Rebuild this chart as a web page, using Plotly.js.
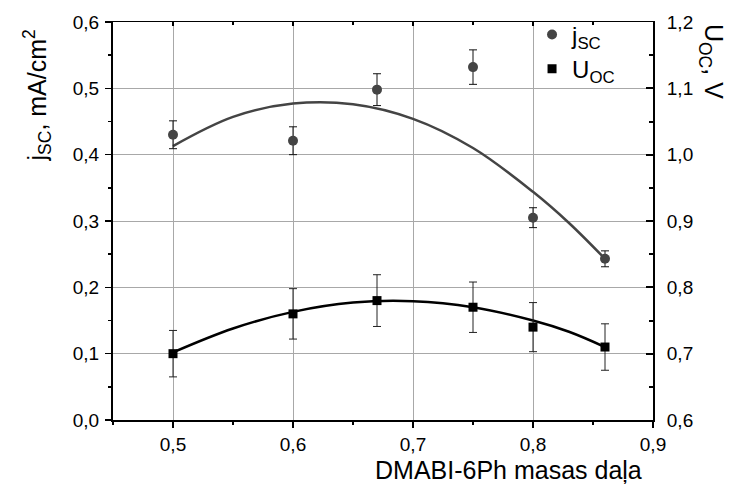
<!DOCTYPE html>
<html>
<head>
<meta charset="utf-8">
<script src="https://cdn.plot.ly/plotly-3.0.1.min.js"></script>
<style>html,body{margin:0;padding:0;background:#fff;}#chart{width:738px;height:493px;}</style>
</head>
<body>
<div id="chart"></div>
<script>
// Data
var massFraction = [0.5, 0.6, 0.67, 0.75, 0.8, 0.86];
var jscValues = [0.430, 0.421, 0.498, 0.532, 0.305, 0.243];
var jscErrors = [0.021, 0.021, 0.024, 0.026, 0.015, 0.012];
var uocValues = [0.70, 0.76, 0.78, 0.77, 0.74, 0.71];
var uocErrors = [0.035, 0.038, 0.039, 0.038, 0.037, 0.035];
// Fit curves
var fitX = [0.5, 0.55, 0.6, 0.65, 0.7, 0.75, 0.8, 0.83, 0.86];
var fitJsc = [0.413, 0.457, 0.477, 0.476, 0.454, 0.410, 0.344, 0.297, 0.243];
var fitUoc = [0.702, 0.738, 0.763, 0.777, 0.779, 0.770, 0.750, 0.733, 0.710];
var xTickVals = [0.5, 0.6, 0.7, 0.8, 0.9];

var FONT = 'Arial, "Liberation Sans", sans-serif';

var traces = [
  {x: fitX, y: fitJsc, type: 'scatter', mode: 'lines', line: {color: '#444444', width: 2.5, shape: 'spline'}, showlegend: false, hoverinfo: 'skip'},
  {x: fitX, y: fitUoc, type: 'scatter', mode: 'lines', yaxis: 'y2', line: {color: '#000000', width: 2.5, shape: 'spline'}, showlegend: false, hoverinfo: 'skip'},
  {x: massFraction, y: jscValues, type: 'scatter', mode: 'markers', name: 'j<sub>SC</sub>',
   marker: {symbol: 'circle', size: 10, color: '#444444'},
   error_y: {type: 'data', array: jscErrors, visible: true, color: '#111111', thickness: 1, width: 4}},
  {x: massFraction, y: uocValues, type: 'scatter', mode: 'markers', name: 'U<sub>OC</sub>', yaxis: 'y2',
   marker: {symbol: 'square', size: 9, color: '#000000'},
   error_y: {type: 'data', array: uocErrors, visible: true, color: '#222222', thickness: 1, width: 4}},
  {x: [null], y: [null], xaxis: 'x2', yaxis: 'y', showlegend: false, hoverinfo: 'skip'}
];

var layout = {
  width: 738, height: 493,
  margin: {l: 113, r: 85, t: 22, b: 73, pad: 0},
  paper_bgcolor: '#ffffff', plot_bgcolor: '#ffffff',
  separators: ', ',
  font: {family: FONT, size: 19, color: '#000'},
  showlegend: true,
  legend: {x: 0.776, y: 1.024, xanchor: 'left', yanchor: 'top', bgcolor: 'rgba(0,0,0,0)', borderwidth: 0,
           font: {family: FONT, size: 24, color: '#000'}, tracegroupgap: 0},
  xaxis: {range: [0.45, 0.9], tickvals: xTickVals, tickformat: '.1f', ticks: 'outside', ticklen: 6, tickwidth: 1.5, tickcolor: '#000',
          showline: true, linecolor: '#000', linewidth: 2, showgrid: true, gridcolor: '#a8a8a8', gridwidth: 1, zeroline: false,
          tickfont: {family: FONT, size: 19, color: '#000'},
          minor: {dtick: 0.05, tick0: 0.45, ticks: 'outside', ticklen: 3, tickwidth: 1.5, tickcolor: '#000', showgrid: false}},
  xaxis2: {overlaying: 'x', side: 'top', matches: 'x', range: [0.45, 0.9], tickvals: xTickVals, ticks: 'inside', ticklen: 4, tickwidth: 1.5, tickcolor: '#000',
           showticklabels: false, showline: true, linecolor: '#000', linewidth: 1.5, showgrid: false, zeroline: false,
           minor: {dtick: 0.05, tick0: 0.45, ticks: 'inside', ticklen: 3, tickwidth: 1.5, tickcolor: '#000', showgrid: false}},
  yaxis: {range: [0, 0.6], dtick: 0.1, tick0: 0, tickformat: '.1f', ticks: 'outside', ticklen: 6, tickwidth: 1.5, tickcolor: '#000',
          showline: true, linecolor: '#000', linewidth: 2, showgrid: true, gridcolor: '#a8a8a8', gridwidth: 1, zeroline: false,
          tickfont: {family: FONT, size: 19, color: '#000'}, ticklabelstandoff: 2,
          minor: {dtick: 0.05, ticks: 'outside', ticklen: 3, tickwidth: 1.5, tickcolor: '#000', showgrid: false}},
  yaxis2: {overlaying: 'y', side: 'right', range: [0.6, 1.2], dtick: 0.1, tick0: 0.6, tickformat: '.1f', ticks: 'inside', ticklen: 7, tickwidth: 2, tickcolor: '#000',
           showline: true, linecolor: '#000', linewidth: 2, showgrid: false, zeroline: false,
           tickfont: {family: FONT, size: 19, color: '#000'}, ticklabelstandoff: 8,
           minor: {dtick: 0.05, ticks: 'inside', ticklen: 4, tickwidth: 2, tickcolor: '#000', showgrid: false}},
  annotations: [
    {text: 'j<sub>SC</sub>, mA/cm<sup>2</sup>', xref: 'paper', yref: 'paper', x: -0.141, y: 0.815, xanchor: 'center', yanchor: 'middle',
     textangle: -90, showarrow: false, font: {family: FONT, size: 25, color: '#000'}},
    {text: 'U<sub>OC</sub>, V', xref: 'paper', yref: 'paper', x: 1.109, y: 0.9, xanchor: 'center', yanchor: 'middle',
     textangle: 90, showarrow: false, font: {family: FONT, size: 25, color: '#000'}},
    {text: 'DMABI-6Ph masas daļa', xref: 'paper', yref: 'paper', x: 0.733, y: -0.125, xanchor: 'center', yanchor: 'middle',
     showarrow: false, font: {family: FONT, size: 25, color: '#000'}}
  ]
};

Plotly.newPlot('chart', traces, layout, {staticPlot: true, displayModeBar: false});
</script>
</body>
</html>
